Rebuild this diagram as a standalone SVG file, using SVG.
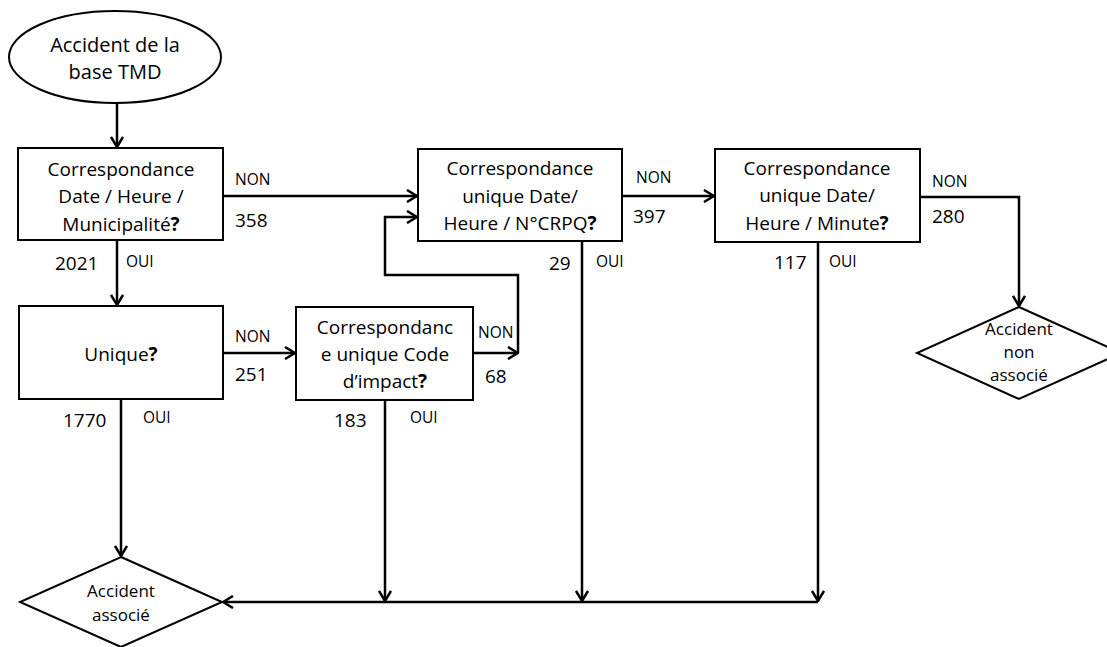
<svg xmlns="http://www.w3.org/2000/svg" width="1107" height="647" viewBox="0 0 1107 647">
<defs>
<style>
.box{fill:#fff;stroke:#000;stroke-width:2}
.t{font-family:"Open Sans","Liberation Sans",sans-serif;font-size:19px;fill:#000;text-anchor:middle}
.e{font-size:20px}
.d{font-family:"Open Sans","Liberation Sans",sans-serif;font-size:17px;fill:#000;text-anchor:middle}
.lbl{font-family:"Open Sans","Liberation Sans",sans-serif;font-size:15.5px;fill:#000}
.num{font-family:"Open Sans","Liberation Sans",sans-serif;font-size:19px;fill:#000}
.b{font-weight:bold}
.c{fill:none;stroke:#000;stroke-width:2.5}
</style>
<marker id="ah" viewBox="0 0 12 14" markerWidth="12" markerHeight="14" refX="11" refY="7" orient="auto" markerUnits="userSpaceOnUse">
<path d="M1,1 L11,7 L1,13" fill="none" stroke="#000" stroke-width="2.5"/>
</marker>
</defs>
<rect width="1107" height="647" fill="#fff"/>

<g id="connectors">
<path class="c" d="M117,103 V147" marker-end="url(#ah)"/>
<path class="c" d="M117,240 V305" marker-end="url(#ah)"/>
<path class="c" d="M223,196 H417" marker-end="url(#ah)"/>
<path class="c" d="M223,353 H295" marker-end="url(#ah)"/>
<path class="c" d="M473,353 H518" marker-end="url(#ah)"/>
<path class="c" d="M518,353 V275 H385 V217 H417" marker-end="url(#ah)"/>
<path class="c" d="M622,196 H714" marker-end="url(#ah)"/>
<path class="c" d="M920,197 H1019 V306" marker-end="url(#ah)"/>
<path class="c" d="M121,399 V556" marker-end="url(#ah)"/>
<path class="c" d="M385,400 V601" marker-end="url(#ah)"/>
<path class="c" d="M582,241 V601" marker-end="url(#ah)"/>
<path class="c" d="M818,242 V601" marker-end="url(#ah)"/>
<path class="c" d="M818,602 H223" marker-end="url(#ah)"/>
<text class="lbl" x="235" y="185">NON</text>
<text class="num" x="235" y="227">358</text>
<text class="num" x="55" y="270">2021</text>
<text class="lbl" x="126" y="267">OUI</text>
<text class="lbl" x="235" y="342">NON</text>
<text class="num" x="235" y="381">251</text>
<text class="lbl" x="478" y="338">NON</text>
<text class="num" x="485" y="383">68</text>
<text class="num" x="63" y="427">1770</text>
<text class="lbl" x="143" y="423">OUI</text>
<text class="num" x="334" y="427">183</text>
<text class="lbl" x="410" y="423">OUI</text>
<text class="lbl" x="636" y="183">NON</text>
<text class="num" x="633" y="223">397</text>
<text class="num" x="549" y="270">29</text>
<text class="lbl" x="596" y="267">OUI</text>
<text class="lbl" x="932" y="187">NON</text>
<text class="num" x="932" y="223">280</text>
<text class="num" x="774" y="269">117</text>
<text class="lbl" x="829" y="267">OUI</text>
</g>

<g id="start">
<ellipse class="box" cx="115" cy="57" rx="106" ry="46"/>
<text class="t e" x="115" y="52">Accident de la</text>
<text class="t e" x="115" y="79">base TMD</text>
</g>

<g id="box1">
<rect class="box" x="18" y="148" width="205" height="92"/>
<text class="t" x="121" y="176">Correspondance</text>
<text class="t" x="121" y="203">Date / Heure /</text>
<text class="t" x="121" y="231">Municipalité<tspan class="b">?</tspan></text>
</g>

<g id="unique">
<rect class="box" x="19" y="306" width="204" height="93"/>
<text class="t" x="121" y="361">Unique<tspan class="b">?</tspan></text>
</g>

<g id="box2">
<rect class="box" x="296" y="307" width="177" height="93"/>
<text class="t" x="385" y="334">Correspondanc</text>
<text class="t" x="385" y="361">e unique Code</text>
<text class="t" x="385" y="388">d’impact<tspan class="b">?</tspan></text>
</g>

<g id="box3">
<rect class="box" x="418" y="149" width="204" height="92"/>
<text class="t" x="520" y="175">Correspondance</text>
<text class="t" x="520" y="203">unique Date/</text>
<text class="t" x="520" y="230">Heure / N°CRPQ<tspan class="b">?</tspan></text>
</g>

<g id="box4">
<rect class="box" x="715" y="149" width="205" height="93"/>
<text class="t" x="817" y="175">Correspondance</text>
<text class="t" x="817" y="202">unique Date/</text>
<text class="t" x="817" y="230">Heure / Minute<tspan class="b">?</tspan></text>
</g>

<g id="non-associe">
<polygon class="box" points="1019,307 1121,353 1019,399 917,353"/>
<text class="d" x="1019" y="335">Accident</text>
<text class="d" x="1019" y="358">non</text>
<text class="d" x="1019" y="381">associé</text>
</g>

<g id="associe">
<polygon class="box" points="121,557 222,602 121,647 20,602"/>
<text class="d" x="121" y="597">Accident</text>
<text class="d" x="121" y="621">associé</text>
</g>
</svg>
